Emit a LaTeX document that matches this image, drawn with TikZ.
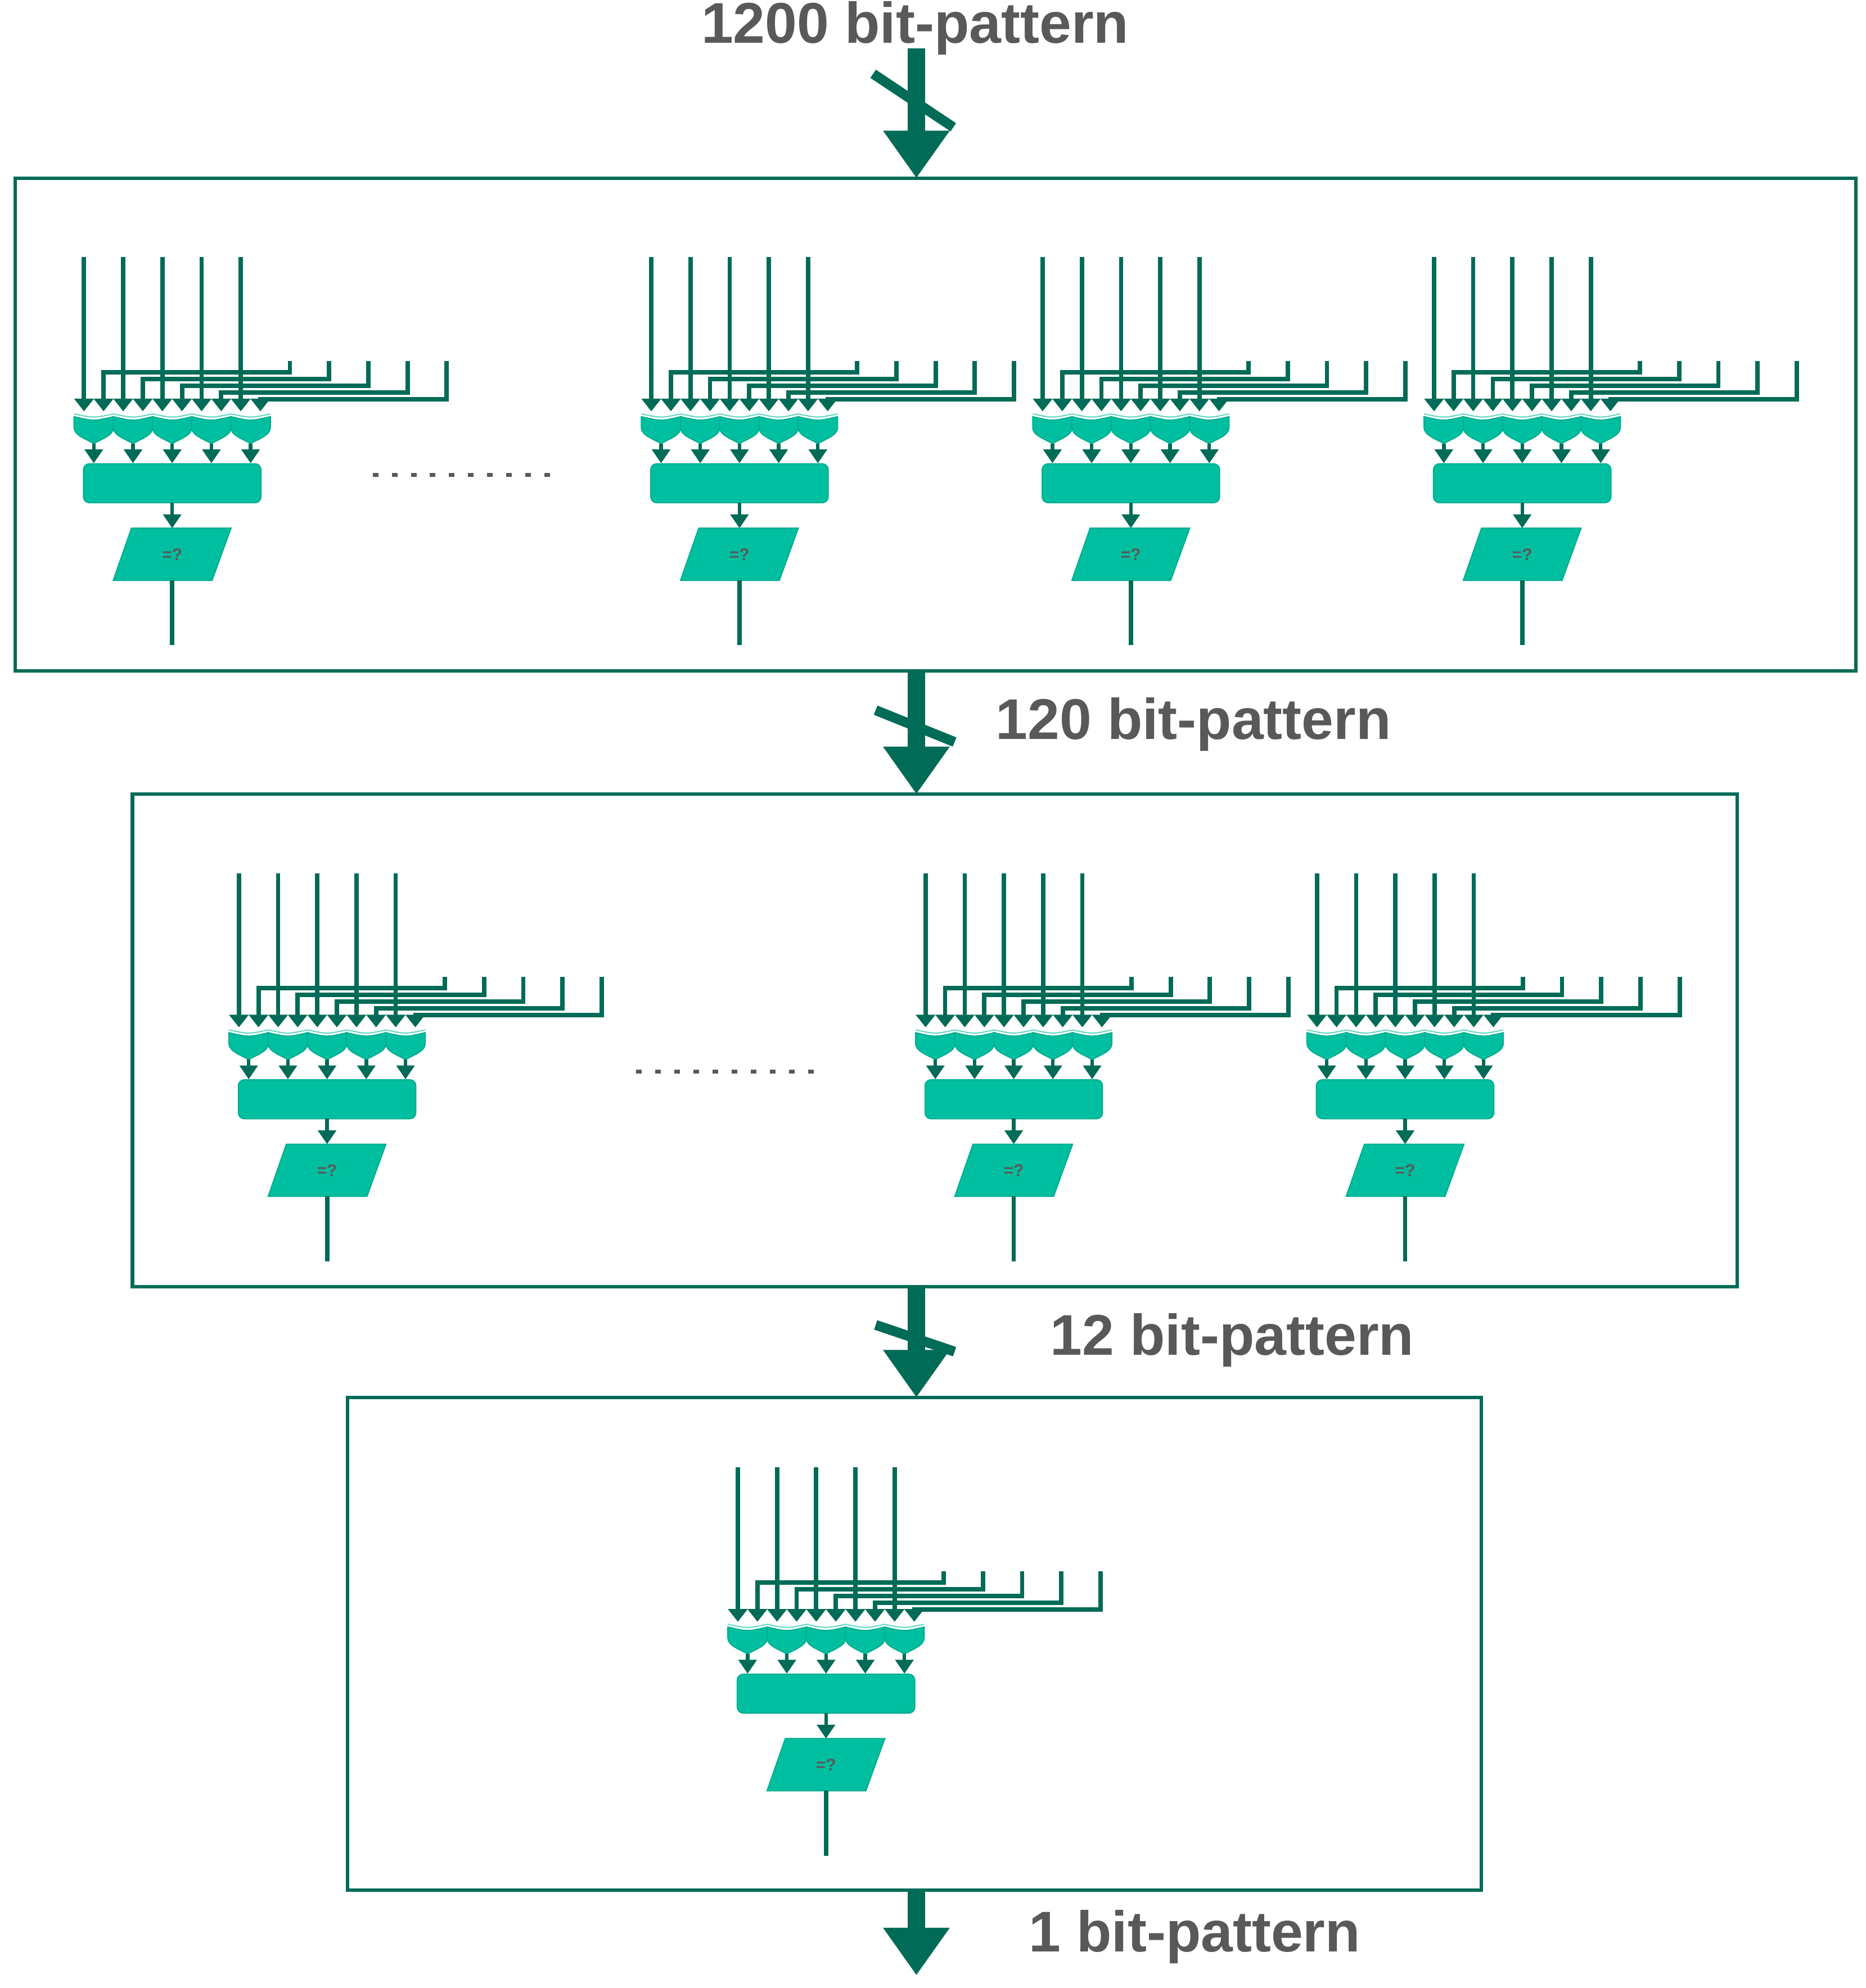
\documentclass[tikz,border=0pt]{standalone}
\usepackage{fontspec}
\setmainfont{Liberation Sans}
\usetikzlibrary{arrows.meta}
\definecolor{dg}{HTML}{006B56}
\definecolor{tl}{HTML}{00BFA0}
\definecolor{tx}{HTML}{595959}
\tikzset{
 wire/.style={draw=dg,line width=2.2pt},
 tip/.style={-{Triangle[width=9.6pt,length=6.4pt]}},
 stip/.style={-{Triangle[width=9pt,length=7pt]}},
 frame/.style={draw=dg,line width=1.8pt},
 big/.style={draw=dg,line width=9pt,-{Triangle[width=32pt,length=24pt]}},
 slash/.style={draw=dg,line width=5pt},
 lbl/.style={font=\fontsize{29}{32}\selectfont\bfseries,text=tx,inner sep=0pt},
 tealfill/.style={fill=tl,draw=tl!80!dg,line width=0.6pt},
}
\newcommand\gunit[3]{%
\begin{scope}[shift={(#1,#2)}]
 \foreach \i in {0,...,4}{
   \pgfmathsetmacro\xa{-69.3+30.8*\i}
   \pgfmathsetmacro\xb{\xa+15.4}
   \pgfmathsetmacro\xs{92.5+30.8*\i}
   \pgfmathsetmacro\yh{90.5+5.3*\i}
   \pgfmathsetmacro\gx{\xa+7.7}
   \draw[wire,tip] (\xa,0) -- (\xa,121.2);
   \draw[wire,tip] (\xs,81.6) |- (\xb,\yh) -- (\xb,121.2);
   \draw[tealfill] (\gx-15.5,125.4) -- (\gx-15.5,134) .. controls (\gx-15.5,140) and (\gx-6,143) .. (\gx,146.5)
      .. controls (\gx+6,143) and (\gx+15.5,140) .. (\gx+15.5,134) -- (\gx+15.5,125.4) .. controls (\gx,129) .. cycle;
   \draw[tl!60,line width=0.6pt] (\gx-15.5,123.2) .. controls (\gx,126.5) .. (\gx+15.5,123.2);
   \draw[wire,line width=1.8pt,stip] (\gx,146.5) -- (\gx,162);
 }
 \draw[tealfill,rounded corners=3pt] (-69.7,162.4) rectangle (69.7,193);
 \coordinate (#3r) at (0,193);
 \coordinate (#3p) at (0,213);
 \draw[wire,line width=1.8pt,stip] (#3r) -- (#3p);
 \draw[tealfill] (-32,213) -- (46.2,213) -- (31.3,254) -- (-46.3,254) -- cycle;
 \node[font=\fontsize{8.5}{9}\selectfont\bfseries,text=tx] (#3q) at (0,233.5) {=?};
 \coordinate (#3o) at (0,305);
 \draw[wire] (0,254) -- (#3o);
\end{scope}}
\newcommand\dotrow[2]{\foreach \k in {0,...,9}{\fill[tx] (#1+15*\k-2.2,#2-1.6) rectangle (#1+15*\k+2.2,#2+1.6);}}
\begin{document}
\begin{tikzpicture}[x=0.0226cm,y=-0.0226cm]
\useasboundingbox (0,0) rectangle (1466,1562);
\node[lbl] (t1) at (719,22) {1200 bit-pattern};
\draw[frame] (12,140) rectangle (1458,527);
\coordinate (b1t) at (720,140);
\coordinate (b1b) at (720,527);
\draw[big] (720,38) -- (b1t);
\draw[slash] (686,58) -- (749,100);
\gunit{135.3}{202}{a}\gunit{581}{202}{b}\gunit{888.5}{202}{c}\gunit{1196}{202}{d}
\dotrow{295}{373}
\draw[frame] (104,624) rectangle (1365,1011);
\coordinate (b2t) at (720,624);
\coordinate (b2b) at (720,1011);
\draw[big] (b1b) -- (b2t);
\draw[slash] (688,558) -- (750,583);
\node[lbl,anchor=west] (t2) at (782,569) {120 bit-pattern};
\gunit{257}{686}{e}\gunit{796.5}{686}{f}\gunit{1104}{686}{g}
\dotrow{502}{842}
\draw[frame] (273,1098) rectangle (1164,1485);
\coordinate (b3t) at (720,1098);
\coordinate (b3b) at (720,1485);
\draw[big] (b2b) -- (b3t);
\draw[slash] (688,1041) -- (750,1062);
\node[lbl,anchor=west] (t3) at (825,1053) {12 bit-pattern};
\gunit{649}{1153}{h}
\coordinate (e4) at (720,1552);
\draw[big] (b3b) -- (e4);
\node[lbl,anchor=west] (t4) at (808,1522) {1 bit-pattern};
\end{tikzpicture}
\end{document}
